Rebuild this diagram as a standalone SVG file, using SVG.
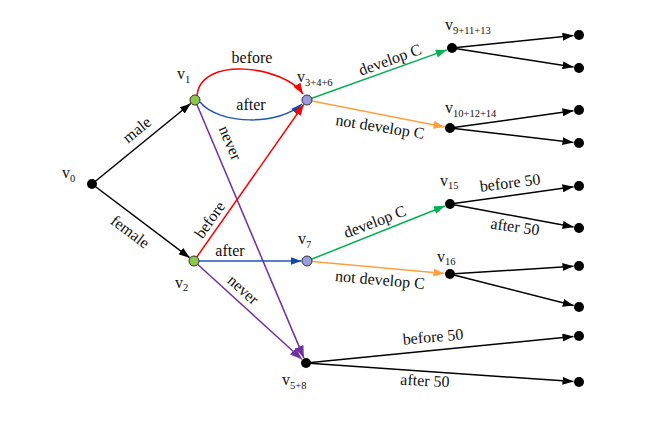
<svg xmlns="http://www.w3.org/2000/svg" width="654" height="447" viewBox="0 0 654 447">
<defs>
<style>
text{font-family:"Liberation Serif","Times New Roman","DejaVu Serif",serif;font-size:16px;fill:#111}
.sub{font-size:10.5px}
.e{fill:none;stroke-width:1.5}
.k{stroke:#000}
.r{stroke:#ff0000}
.b{stroke:#1f55b8}
.p{stroke:#7030a0}
.g{stroke:#00b050}
.o{stroke:#ffa040}
.dot{fill:#000}
.gn{fill:#8cc84b;stroke:#333;stroke-width:1}
.bn{fill:#9b9be0;stroke:#333;stroke-width:1}
</style>
<marker id="ak" markerWidth="11" markerHeight="8" refX="11" refY="4" orient="auto" markerUnits="userSpaceOnUse"><path d="M0,0 L11,4 L0,8 z" fill="#000"/></marker>
<marker id="ar" markerWidth="11" markerHeight="8" refX="11" refY="4" orient="auto" markerUnits="userSpaceOnUse"><path d="M0,0 L11,4 L0,8 z" fill="#ff0000"/></marker>
<marker id="ab" markerWidth="11" markerHeight="8" refX="11" refY="4" orient="auto" markerUnits="userSpaceOnUse"><path d="M0,0 L11,4 L0,8 z" fill="#1348a8"/></marker>
<marker id="ap" markerWidth="12" markerHeight="9" refX="12" refY="4.5" orient="auto" markerUnits="userSpaceOnUse"><path d="M0,0 L12,4.5 L0,9 z" fill="#7030a0"/></marker>
<marker id="ag" markerWidth="11" markerHeight="8" refX="11" refY="4" orient="auto" markerUnits="userSpaceOnUse"><path d="M0,0 L11,4 L0,8 z" fill="#00b050"/></marker>
<marker id="ao" markerWidth="11" markerHeight="8" refX="11" refY="4" orient="auto" markerUnits="userSpaceOnUse"><path d="M0,0 L11,4 L0,8 z" fill="#ffa040"/></marker>
</defs>
<rect width="654" height="447" fill="#fff"/>
<g font-family="Liberation Serif, Times New Roman, serif">
<g id="connectors">
<line class="e k" x1="92" y1="184" x2="190.7" y2="103.5" marker-end="url(#ak)"/>
<line class="e k" x1="92" y1="184" x2="189.6" y2="257.7" marker-end="url(#ak)"/>
<path class="e r" d="M197,96 C200,55 285,66 303,94" marker-end="url(#ar)"/>
<path class="e b" d="M200,102 C220,126 280,125 302,104" marker-end="url(#ab)"/>
<line class="e p" x1="195" y1="100" x2="303.9" y2="357.9" marker-end="url(#ap)"/>
<line class="e r" x1="194" y1="261" x2="303.8" y2="104.5" marker-end="url(#ar)"/>
<line class="e b" x1="194" y1="261" x2="301.5" y2="261" marker-end="url(#ab)"/>
<line class="e p" x1="194" y1="261" x2="301.9" y2="359.3" marker-end="url(#ap)"/>
<line class="e g" x1="307" y1="100" x2="446.8" y2="49.9" marker-end="url(#ag)"/>
<line class="e o" x1="307" y1="100" x2="444.6" y2="126.9" marker-end="url(#ao)"/>
<line class="e g" x1="307" y1="261" x2="444.9" y2="206" marker-end="url(#ag)"/>
<line class="e o" x1="307" y1="261" x2="444.5" y2="273.5" marker-end="url(#ao)"/>
<line class="e k" x1="452" y1="48" x2="573.5" y2="35.6" marker-end="url(#ak)"/>
<line class="e k" x1="452" y1="48" x2="573.6" y2="67.1" marker-end="url(#ak)"/>
<line class="e k" x1="450" y1="128" x2="573.5" y2="110.8" marker-end="url(#ak)"/>
<line class="e k" x1="450" y1="128" x2="573.5" y2="142.4" marker-end="url(#ak)"/>
<line class="e k" x1="450" y1="204" x2="573.5" y2="186.8" marker-end="url(#ak)"/>
<line class="e k" x1="450" y1="204" x2="573.6" y2="227" marker-end="url(#ak)"/>
<line class="e k" x1="450" y1="274" x2="573.5" y2="266.3" marker-end="url(#ak)"/>
<line class="e k" x1="450" y1="274" x2="573.7" y2="305.6" marker-end="url(#ak)"/>
<line class="e k" x1="306" y1="363" x2="573.5" y2="336.5" marker-end="url(#ak)"/>
<line class="e k" x1="306" y1="363" x2="573.5" y2="381.6" marker-end="url(#ak)"/>
<text x="252" y="63" text-anchor="middle">before</text>
<text x="251" y="110" text-anchor="middle">after</text>
<text x="230" y="256" text-anchor="middle">after</text>
<text transform="translate(137,130) rotate(-39)" y="5" text-anchor="middle">male</text>
<text transform="translate(130,232) rotate(37)" y="5" text-anchor="middle">female</text>
<text transform="translate(230,143) rotate(67)" y="5" text-anchor="middle">never</text>
<text transform="translate(210,220) rotate(-55)" y="5" text-anchor="middle">before</text>
<text transform="translate(243,290) rotate(42)" y="5" text-anchor="middle">never</text>
<text transform="translate(390,60) rotate(-20)" y="5" text-anchor="middle">develop C</text>
<text transform="translate(380,127) rotate(9)" y="5" text-anchor="middle">not develop C</text>
<text transform="translate(375,222) rotate(-21)" y="5" text-anchor="middle">develop C</text>
<text transform="translate(380,280) rotate(5)" y="5" text-anchor="middle">not develop C</text>
<text transform="translate(510,183) rotate(-7)" y="5" text-anchor="middle">before 50</text>
<text transform="translate(515,227) rotate(8)" y="5" text-anchor="middle">after 50</text>
<text transform="translate(433,337) rotate(-5)" y="5" text-anchor="middle">before 50</text>
<text transform="translate(425,381) rotate(3)" y="5" text-anchor="middle">after 50</text>
</g>
<g id="v0"><circle class="dot" cx="92" cy="184" r="5"/><text x="62" y="178">v<tspan class="sub" dy="4">0</tspan></text></g>
<g id="v1"><circle class="gn" cx="195" cy="100" r="5"/><text x="177" y="79">v<tspan class="sub" dy="4">1</tspan></text></g>
<g id="v2"><circle class="gn" cx="194" cy="261" r="5"/><text x="175" y="288">v<tspan class="sub" dy="3">2</tspan></text></g>
<g id="v3_4_6"><circle class="bn" cx="307" cy="100" r="5"/><text x="297" y="82">v<tspan class="sub" dy="3.5">3+4+6</tspan></text></g>
<g id="v7"><circle class="bn" cx="307" cy="261" r="5"/><text x="298" y="244">v<tspan class="sub" dy="4">7</tspan></text></g>
<g id="v5_8"><circle class="dot" cx="306" cy="363" r="5"/><text x="282" y="385">v<tspan class="sub" dy="4">5+8</tspan></text></g>
<g id="v9_11_13"><circle class="dot" cx="452" cy="48" r="5"/><text x="445" y="30">v<tspan class="sub" dy="4">9+11+13</tspan></text></g>
<g id="v10_12_14"><circle class="dot" cx="450" cy="128" r="5"/><text x="445" y="112.5">v<tspan class="sub" dy="4">10+12+14</tspan></text></g>
<g id="v15"><circle class="dot" cx="450" cy="204" r="5"/><text x="440" y="185.5">v<tspan class="sub" dy="3">15</tspan></text></g>
<g id="v16"><circle class="dot" cx="450" cy="274" r="5"/><text x="437" y="261.5">v<tspan class="sub" dy="3">16</tspan></text></g>
<g id="leaf1"><circle class="dot" cx="579" cy="35" r="5"/></g>
<g id="leaf2"><circle class="dot" cx="579" cy="68" r="5"/></g>
<g id="leaf3"><circle class="dot" cx="579" cy="110" r="5"/></g>
<g id="leaf4"><circle class="dot" cx="579" cy="143" r="5"/></g>
<g id="leaf5"><circle class="dot" cx="579" cy="186" r="5"/></g>
<g id="leaf6"><circle class="dot" cx="579" cy="228" r="5"/></g>
<g id="leaf7"><circle class="dot" cx="579" cy="266" r="5"/></g>
<g id="leaf8"><circle class="dot" cx="579" cy="307" r="5"/></g>
<g id="leaf9"><circle class="dot" cx="579" cy="336" r="5"/></g>
<g id="leaf10"><circle class="dot" cx="579" cy="382" r="5"/></g>
</g>
</svg>
